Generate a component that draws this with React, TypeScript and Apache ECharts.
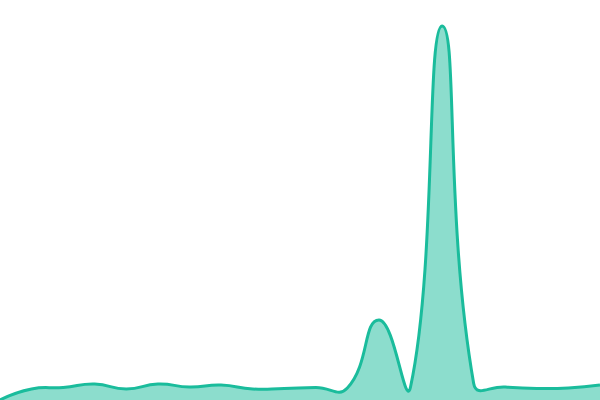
import React, { useEffect, useRef } from 'react';
import * as echarts from 'echarts';

// 20 evenly spaced samples (y axis 0..400)
const categories: string[] = Array.from({ length: 20 }, (_, i) => String(i + 1));
const values: number[] = [0, 11, 12.5, 16, 11, 16, 13, 15, 11, 11.5, 12.5, 12, 80, 13, 374, 16.5, 13, 11.5, 12, 15];

const LINE_COLOR = '#1abc9c';
const TENSION = 0.5;

// cardinal-style smoothing without the extreme clamp that the line series applies
function smoothPath(pts: number[][]): string {
  const n = pts.length;
  const cps: number[][] = [];
  for (let i = 0; i < n; i++) {
    const p = pts[i];
    if (i === 0 || i === n - 1) {
      cps.push([p[0], p[1]], [p[0], p[1]]);
      continue;
    }
    const prev = pts[i - 1];
    const next = pts[i + 1];
    const vx = (next[0] - prev[0]) * TENSION;
    const vy = (next[1] - prev[1]) * TENSION;
    let d0 = Math.hypot(p[0] - prev[0], p[1] - prev[1]);
    let d1 = Math.hypot(p[0] - next[0], p[1] - next[1]);
    const sum = d0 + d1;
    if (sum) {
      d0 /= sum;
      d1 /= sum;
    }
    cps.push([p[0] - vx * d0, p[1] - vy * d0], [p[0] + vx * d1, p[1] + vy * d1]);
  }
  let d = `M${pts[0][0]},${pts[0][1]}`;
  for (let i = 1; i < n; i++) {
    const c1 = cps[(i - 1) * 2 + 1];
    const c2 = cps[i * 2];
    d += ` C${c1[0]},${c1[1]} ${c2[0]},${c2[1]} ${pts[i][0]},${pts[i][1]}`;
  }
  return d;
}

const App: React.FC = () => {
  const chartRef = useRef<HTMLDivElement | null>(null);

  useEffect(() => {
    if (!chartRef.current) return;
    const chart = echarts.init(chartRef.current, null, { renderer: 'svg' });

    const option: echarts.EChartsOption = {
      animation: false,
      grid: { left: 0, right: 0, top: 0, bottom: 0 },
      xAxis: {
        type: 'category',
        boundaryGap: false,
        data: categories,
        show: false
      },
      yAxis: {
        type: 'value',
        min: 0,
        max: 400,
        show: false
      },
      series: [
        {
          type: 'custom',
          clip: false,
          data: values.map((v, i) => [i, v]),
          renderItem: (params: any, api: any) => {
            if (params.dataIndex !== 0) return null;
            const pts = values.map((v, i) => api.coord([i, v]));
            const base = api.coord([0, 0])[1];
            const line = smoothPath(pts);
            const area = `${line} L${pts[pts.length - 1][0]},${base} L${pts[0][0]},${base} Z`;
            return {
              type: 'group',
              children: [
                {
                  type: 'path',
                  shape: { pathData: area },
                  style: { fill: LINE_COLOR, opacity: 0.5, stroke: null }
                },
                {
                  type: 'path',
                  shape: { pathData: line },
                  style: { fill: null, stroke: LINE_COLOR, lineWidth: 3, lineJoin: 'round' }
                }
              ]
            };
          }
        }
      ]
    };

    chart.setOption(option);
    return () => {
      chart.dispose();
    };
  }, []);

  return (
    <div
      ref={chartRef}
      style={{ position: 'fixed', left: 0, top: 0, width: '600px', height: '400px' }}
    />
  );
};

export default App;
